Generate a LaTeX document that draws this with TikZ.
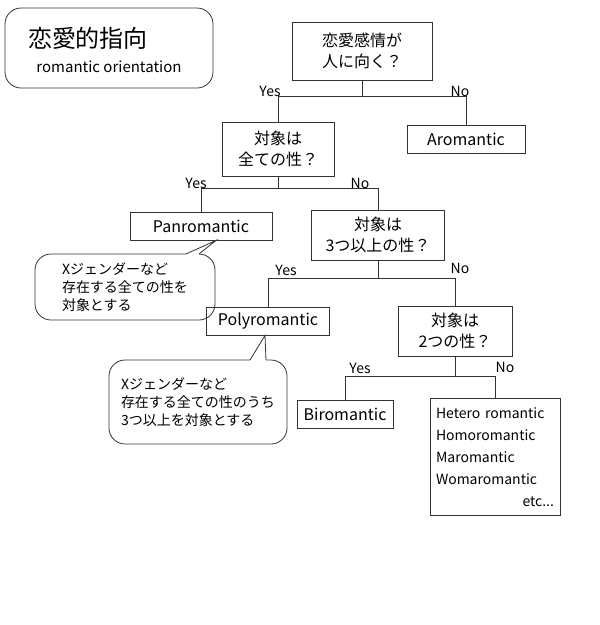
\documentclass[tikz,border=0pt]{standalone}
\usepackage{fontspec}
\setmainfont{Noto Sans CJK JP}
\usetikzlibrary{positioning}
\usetikzlibrary{calc}

\tikzset{
  box/.style={draw=black!80, line width=0.8pt, align=center, font=\fontsize{16}{21}\selectfont, inner sep=4pt},
  ans/.style={box, minimum height=28pt},
  lbl/.style={font=\fontsize{14}{16}\selectfont},
  bubble/.style={rounded corners=16pt, draw=black!80, line width=0.8pt, align=left, font=\fontsize{14}{18}\selectfont, inner sep=8pt},
  link/.style={draw=black!80, line width=0.8pt}
}

\begin{document}
\begin{tikzpicture}[x=1pt, y=-1pt]
 \useasboundingbox (0,0) rectangle (600,625);

 % title
 \node[draw=black!80, line width=0.8pt, rounded corners=16pt, minimum width=208pt, minimum height=80pt] (title) at (109,48) {};
 \node[font=\fontsize{24}{26}\selectfont] (ttl) at (88,38) {恋愛的指向};
 \node[font=\fontsize{15}{17}\selectfont] (sub) at (109,67) {romantic orientation};

 % questions and answers
 \node[box, minimum width=140pt, minimum height=58pt] (q1) at (362,51) {恋愛感情が\\人に向く？};
 \node[box, minimum width=112pt, minimum height=54pt] (q2) at (278,149) {対象は\\全ての性？};
 \node[ans, minimum width=118pt] (aro) at (466,139) {Aromantic};
 \node[ans, minimum width=142pt] (pan) at (201,226) {Panromantic};
 \node[box, minimum width=133pt, minimum height=50pt] (q3) at (378,235) {対象は\\3つ以上の性？};
 \node[ans, minimum width=123pt] (poly) at (268,321) {Polyromantic};
 \node[box, minimum width=114pt, minimum height=50pt] (q4) at (455,331) {対象は\\2つの性？};
 \node[ans, minimum width=96pt] (bi) at (345,414) {Biromantic};
 \node[draw=black!80, line width=0.8pt, align=left, font=\fontsize{14}{22}\selectfont, inner sep=6pt, text width=118pt, minimum height=117pt] (rest) at (495,457)
   {Hetero romantic\\Homoromantic\\Maromantic\\Womaromantic\\\hfill etc...};

 % speech bubbles
 \node[bubble, minimum width=180pt, minimum height=66pt] (b1) at (125,287) {Xジェンダーなど\\存在する全ての性を\\対象とする};
 \node[bubble, minimum width=178pt, minimum height=84pt] (b2) at (198,402) {Xジェンダーなど\\存在する全ての性のうち\\3つ以上を対象とする};
 \coordinate (t1) at (pan.south -| 216,0);
 \coordinate (t2) at (poly.south -| 265,0);
 \draw[white, line width=1.6pt] (186,254) -- (199,254);
 \draw[link, fill=white] (186,254) -- (t1) -- (199,254);
 \draw[white, line width=1.6pt] (250,360) -- (266,360);
 \draw[link, fill=white] (250,360) -- (t2) -- (266,360);

 % branches
 \coordinate (j1) at (q1.south |- 0,96);
 \draw[link] (q1.south) -- (j1);
 \draw[link] (q2.north |- j1) -- (aro.north |- j1);
 \draw[link] (q2.north |- j1) -- (q2.north);
 \draw[link] (aro.north |- j1) -- (aro.north);
 \node[lbl] (y1) at (270,91) {Yes};
 \node[lbl] (n1) at (460,91) {No};

 \coordinate (j2) at (q2.south |- 0,188);
 \draw[link] (q2.south) -- (j2);
 \draw[link] (pan.north |- j2) -- (q3.north |- j2);
 \draw[link] (pan.north |- j2) -- (pan.north);
 \draw[link] (q3.north |- j2) -- (q3.north);
 \node[lbl] (y2) at (196,183) {Yes};
 \node[lbl] (n2) at (360,183) {No};

 \coordinate (j3) at (q3.south |- 0,278);
 \draw[link] (q3.south) -- (j3);
 \draw[link] (poly.north |- j3) -- (q4.north |- j3);
 \draw[link] (poly.north |- j3) -- (poly.north);
 \draw[link] (q4.north |- j3) -- (q4.north);
 \node[lbl] (y3) at (286,270) {Yes};
 \node[lbl] (n3) at (460,268) {No};

 \coordinate (j4) at (q4.south |- 0,376);
 \draw[link] (q4.south) -- (j4);
 \draw[link] (bi.north |- j4) -- (rest.north |- j4);
 \draw[link] (bi.north |- j4) -- (bi.north);
 \draw[link] (rest.north |- j4) -- (rest.north);
 \node[lbl] (y4) at (360,368) {Yes};
 \node[lbl] (n4) at (505,367) {No};
\end{tikzpicture}
\end{document}
